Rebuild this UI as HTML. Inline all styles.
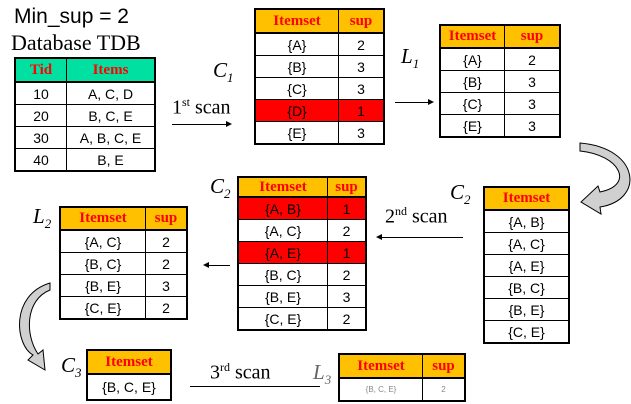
<!DOCTYPE html>
<html><head><style>
body{margin:0;width:631px;height:404px;background:#fff;position:relative;overflow:hidden;font-family:"Liberation Sans",sans-serif}
table{position:absolute;border-collapse:collapse;border:2px solid #000}
td{border:1px solid #000;text-align:center;font-size:14px;padding:0;height:21px;color:#000}
th{border:1px solid #000;border-bottom:2px solid #000;background:#ffc000;color:#f00;font-family:"Liberation Serif",serif;font-weight:bold;font-size:15px;padding:0}
.r td{background:#f00}
.t{position:absolute;font-family:"Liberation Serif",serif;white-space:nowrap}
.ci{font-style:italic;font-size:21px}
.ci sub{font-size:13px}
</style></head><body>
<div style="position:absolute;left:14px;top:5px;font-size:21px">Min_sup = 2</div>
<div class="t" style="left:11px;top:30px;font-size:22px">Database TDB</div>
<table style="left:14px;top:57px;width:142px">
<tr><th style="background:#00e0a0;width:50px;height:22px">Tid</th><th style="background:#00e0a0;height:22px">Items</th></tr>
<tr><td>10</td><td>A, C, D</td></tr><tr><td>20</td><td>B, C, E</td></tr><tr><td>30</td><td>A, B, C, E</td></tr><tr><td>40</td><td>B, E</td></tr></table>
<div class="t ci" style="left:213px;top:58px">C<sub>1</sub></div>
<div class="t" style="left:172px;top:95px;font-size:20px">1<sup style="font-size:12px">st</sup> scan</div>
<div style="position:absolute;left:172px;top:124px;width:58px;height:1px;background:#000"></div>
<div style="position:absolute;left:226px;top:121px;border-left:6px solid #000;border-top:3px solid transparent;border-bottom:3px solid transparent"></div>
<table style="left:254px;top:8px;width:131px">
<tr><th style="height:22px;width:82px">Itemset</th><th>sup</th></tr>
<tr><td>{A}</td><td>2</td></tr><tr><td>{B}</td><td>3</td></tr><tr><td>{C}</td><td>3</td></tr><tr class="r"><td>{D}</td><td>1</td></tr><tr><td>{E}</td><td>3</td></tr></table>
<div class="t ci" style="left:401px;top:44px">L<sub>1</sub></div>
<div style="position:absolute;left:395px;top:102px;width:36px;height:1px;background:#000"></div>
<div style="position:absolute;left:428px;top:99px;border-left:6px solid #000;border-top:3px solid transparent;border-bottom:3px solid transparent"></div>
<table style="left:439px;top:24px;width:122px">
<tr><th style="height:21px;width:63px">Itemset</th><th>sup</th></tr>
<tr><td>{A}</td><td>2</td></tr><tr><td>{B}</td><td>3</td></tr><tr><td>{C}</td><td>3</td></tr><tr><td>{E}</td><td>3</td></tr></table>
<svg style="position:absolute;left:0;top:0" width="631" height="404">
<path d="M580,151 C620,155 635,185 600,192 L598,186 L581,202 L601,214 L600,207 C645,200 640,148 580,143 Z" fill="#d0d0d0" stroke="#000" stroke-width="1"/>
<path d="M50,283 C10,295 15,345 33,355 L28,360 L45,370 L43,350 L38,354 C25,335 25,300 50,290 Z" fill="#d0d0d0" stroke="#000" stroke-width="1"/>
</svg>
<div class="t ci" style="left:450px;top:180px">C<sub>2</sub></div>
<table style="left:483px;top:186px;width:87px">
<tr><th style="height:21px">Itemset</th></tr>
<tr><td>{A, B}</td></tr><tr><td>{A, C}</td></tr><tr><td>{A, E}</td></tr><tr><td>{B, C}</td></tr><tr><td>{B, E}</td></tr><tr><td>{C, E}</td></tr></table>
<div class="t" style="left:385px;top:204px;font-size:20px">2<sup style="font-size:12px">nd</sup> scan</div>
<div style="position:absolute;left:381px;top:237px;width:82px;height:1px;background:#000"></div>
<div style="position:absolute;left:376px;top:234px;border-right:6px solid #000;border-top:3px solid transparent;border-bottom:3px solid transparent"></div>
<div class="t ci" style="left:210px;top:174px">C<sub>2</sub></div>
<table style="left:237px;top:176px;width:130px">
<tr><th style="height:18px;width:88px">Itemset</th><th>sup</th></tr>
<tr class="r"><td style="height:20px">{A, B}</td><td>1</td></tr><tr><td style="height:20px">{A, C}</td><td>2</td></tr><tr class="r"><td style="height:20px">{A, E}</td><td>1</td></tr><tr><td style="height:20px">{B, C}</td><td>2</td></tr><tr><td style="height:20px">{B, E}</td><td>3</td></tr><tr><td style="height:20px">{C, E}</td><td>2</td></tr></table>
<div style="position:absolute;left:208px;top:265px;width:22px;height:1px;background:#000"></div>
<div style="position:absolute;left:203px;top:262px;border-right:6px solid #000;border-top:3px solid transparent;border-bottom:3px solid transparent"></div>
<div class="t ci" style="left:33px;top:204px">L<sub>2</sub></div>
<table style="left:59px;top:206px;width:129px">
<tr><th style="height:21px;width:84px">Itemset</th><th>sup</th></tr>
<tr><td style="height:20px">{A, C}</td><td>2</td></tr><tr><td style="height:20px">{B, C}</td><td>2</td></tr><tr><td style="height:20px">{B, E}</td><td>3</td></tr><tr><td style="height:20px">{C, E}</td><td>2</td></tr></table>
<div class="t ci" style="left:61px;top:353px">C<sub>3</sub></div>
<table style="left:86px;top:349px;width:86px">
<tr><th style="height:22px">Itemset</th></tr><tr><td style="height:24px">{B, C, E}</td></tr></table>
<div class="t" style="left:210px;top:360px;font-size:20px">3<sup style="font-size:12px">rd</sup> scan</div>
<div style="position:absolute;left:190px;top:386px;width:130px;height:1px;background:#000"></div>
<div class="t ci" style="left:313px;top:360px;color:#666">L<sub>3</sub></div>
<table style="left:338px;top:353px;width:128px">
<tr><th style="height:22px;width:82px">Itemset</th><th>sup</th></tr><tr><td style="height:21px;font-size:8px;color:#888">{B, C, E}</td><td style="font-size:8px;color:#888">2</td></tr></table>
</body></html>
